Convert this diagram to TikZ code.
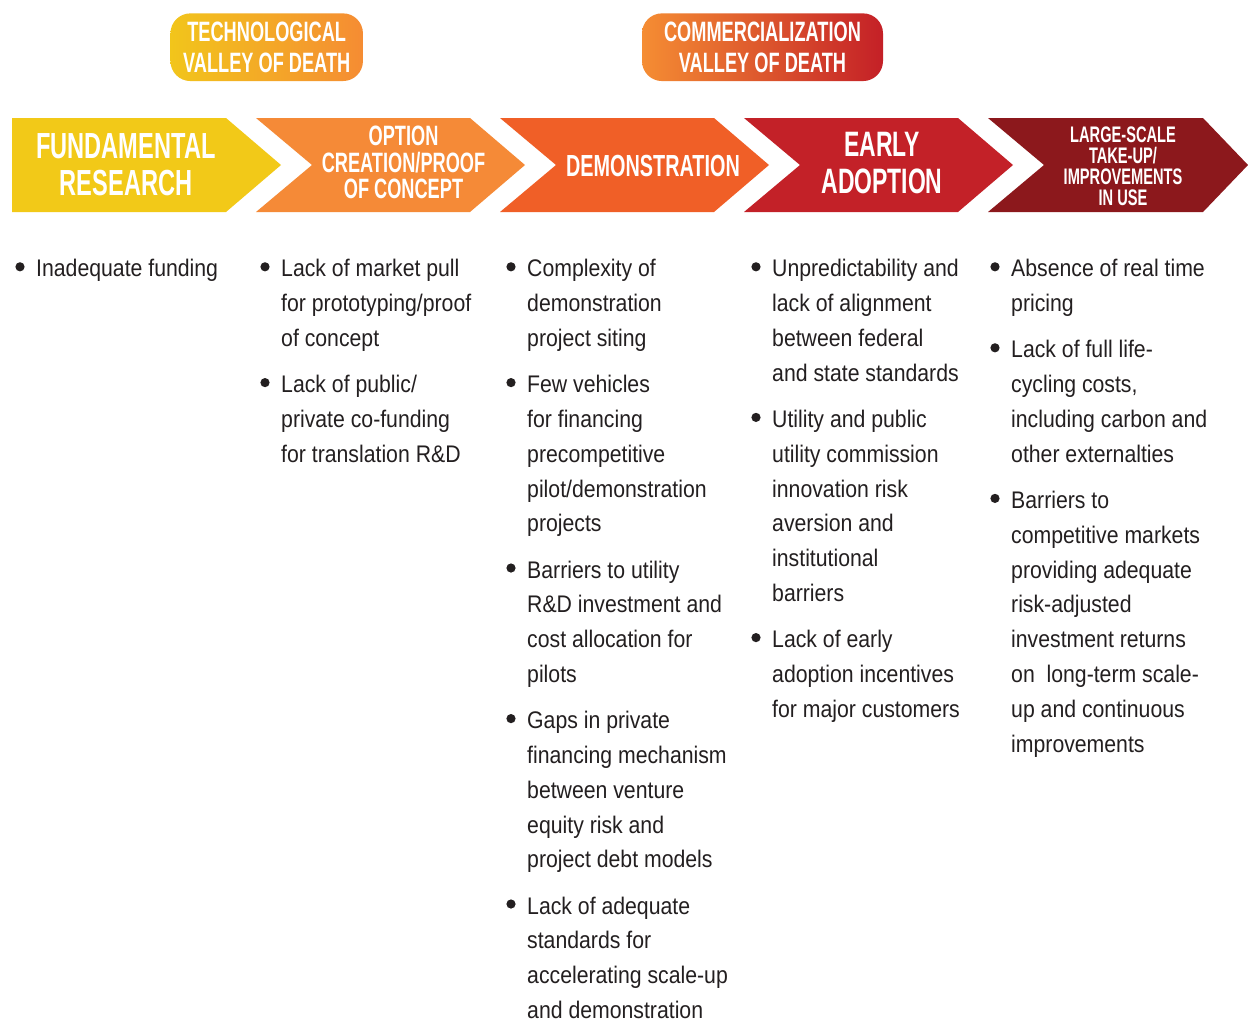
\documentclass[tikz,border=0pt]{standalone}
\usepackage{fontspec}
\newfontfamily\bodyf[FakeStretch=0.885]{Liberation Sans}
\newfontfamily\headf[FakeStretch=0.65]{Liberation Sans}
\definecolor{cYel}{HTML}{F2C918}
\definecolor{cOra}{HTML}{F58A37}
\definecolor{cDem}{HTML}{F05F27}
\definecolor{cEar}{HTML}{C32128}
\definecolor{cLar}{HTML}{8C181C}
\definecolor{tagAl}{HTML}{F2C51B}
\definecolor{tagAr}{HTML}{F58C33}
\definecolor{tagBl}{HTML}{F58D33}
\definecolor{tagBr}{HTML}{C42027}
\definecolor{txtc}{HTML}{231F20}
\newcommand\hdsz[2]{\headf\bfseries\fontsize{#1}{#2}\selectfont}
\newcommand\lns[1]{\vtop{\baselineskip=34.8pt\lineskiplimit=-50pt\halign{##\hfil\cr#1\crcr}}}
\tikzset{
  itm/.style={anchor=base west, inner sep=0pt, text=txtc, font=\bodyf\fontsize{24}{34.8}\selectfont},
  hd/.style={text=white, align=center, inner sep=0pt},
  tagbox/.style={text=white, align=center, inner sep=0pt, rounded corners=20pt,
     minimum width=192.5pt, minimum height=67.7pt, font=\hdsz{28}{30.7}},
  bul/.style={fill=txtc}
}
\newcommand\bitem[4]{\node[itm] (#1) at (#2,#3) {\lns{#4}};
  \fill[bul] (#2-16,#3-10) circle[radius=4.6pt];}
\begin{document}
\begin{tikzpicture}[x=1pt,y=-1pt]
\useasboundingbox (0,0) rectangle (1248,1021);
\fill[white] (0,0) rectangle (1248,1021);
% valley of death tags
\node[tagbox, left color=tagAl, right color=tagAr] (tech) at (266.7,47.2) {TECHNOLOGICAL\\VALLEY OF DEATH};
\node[tagbox, left color=tagBl, right color=tagBr, minimum width=241pt] (comm) at (762.5,47.2) {COMMERCIALIZATION\\VALLEY OF DEATH};
% chevrons
\fill[cYel] (12,118) -- (226,118) -- (281,165) -- (226,212) -- (12,212) -- cycle;
\fill[cOra] (256,118) -- (470,118) -- (525,165) -- (470,212) -- (256,212) -- (312,165) -- cycle;
\fill[cDem] (500,118) -- (714,118) -- (769,165) -- (714,212) -- (500,212) -- (556,165) -- cycle;
\fill[cEar] (744,118) -- (958,118) -- (1013,165) -- (958,212) -- (744,212) -- (800,165) -- cycle;
\fill[cLar] (988,118) -- (1203,118) -- (1248,165) -- (1203,212) -- (988,212) -- (1044,165) -- cycle;
\node[hd, font=\hdsz{36.3}{36.7}] (fund) at (126,165) {FUNDAMENTAL\\RESEARCH};
\node[hd, font=\hdsz{28}{26.5}] (opt) at (403.5,162.5) {OPTION\\CREATION/PROOF\\OF CONCEPT};
\node[hd, font=\hdsz{30.5}{30}] (demo) at (653,165.5) {DEMONSTRATION};
\node[hd, font=\hdsz{35.3}{37.3}] (early) at (882,163) {EARLY\\ADOPTION};
\node[hd, font=\hdsz{22.5}{21.1}] (large) at (1123,166) {LARGE-SCALE\\TAKE-UP/\\IMPROVEMENTS\\IN USE};
% column 1
\bitem{a1}{36}{276.8}{Inadequate funding}
% column 2
\bitem{b1}{281}{276.8}{Lack of market pull\cr for prototyping/proof\cr of concept}
\bitem{b2}{281}{392.6}{Lack of public/\cr private co-funding\cr for translation R\&D}
% column 3
\bitem{c1}{527}{276.8}{Complexity of\cr demonstration\cr project siting}
\bitem{c2}{527}{392.6}{Few vehicles\cr for financing\cr precompetitive\cr pilot/demonstration\cr projects}
\bitem{c3}{527}{578}{Barriers to utility\cr R\&D investment and\cr cost allocation for\cr pilots}
\bitem{c4}{527}{728.6}{Gaps in private\cr financing mechanism\cr between venture\cr equity risk and\cr project debt models}
\bitem{c5}{527}{914}{Lack of adequate\cr standards for\cr accelerating scale-up\cr and demonstration}
% column 4
\bitem{d1}{772}{276.8}{Unpredictability and\cr lack of alignment\cr between federal\cr and state standards}
\bitem{d2}{772}{427.4}{Utility and public\cr utility commission\cr innovation risk\cr aversion and\cr institutional\cr barriers}
\bitem{d3}{772}{647.6}{Lack of early\cr adoption incentives\cr for major customers}
% column 5
\bitem{e1}{1011}{276.8}{Absence of real time\cr pricing}
\bitem{e2}{1011}{357.8}{Lack of full life-\cr cycling costs,\cr including carbon and\cr other externalties}
\bitem{e3}{1011}{508.4}{Barriers to\cr competitive markets\cr providing adequate\cr risk-adjusted\cr investment returns\cr on~ long-term scale-\cr up and continuous\cr improvements}
\end{tikzpicture}
\end{document}
